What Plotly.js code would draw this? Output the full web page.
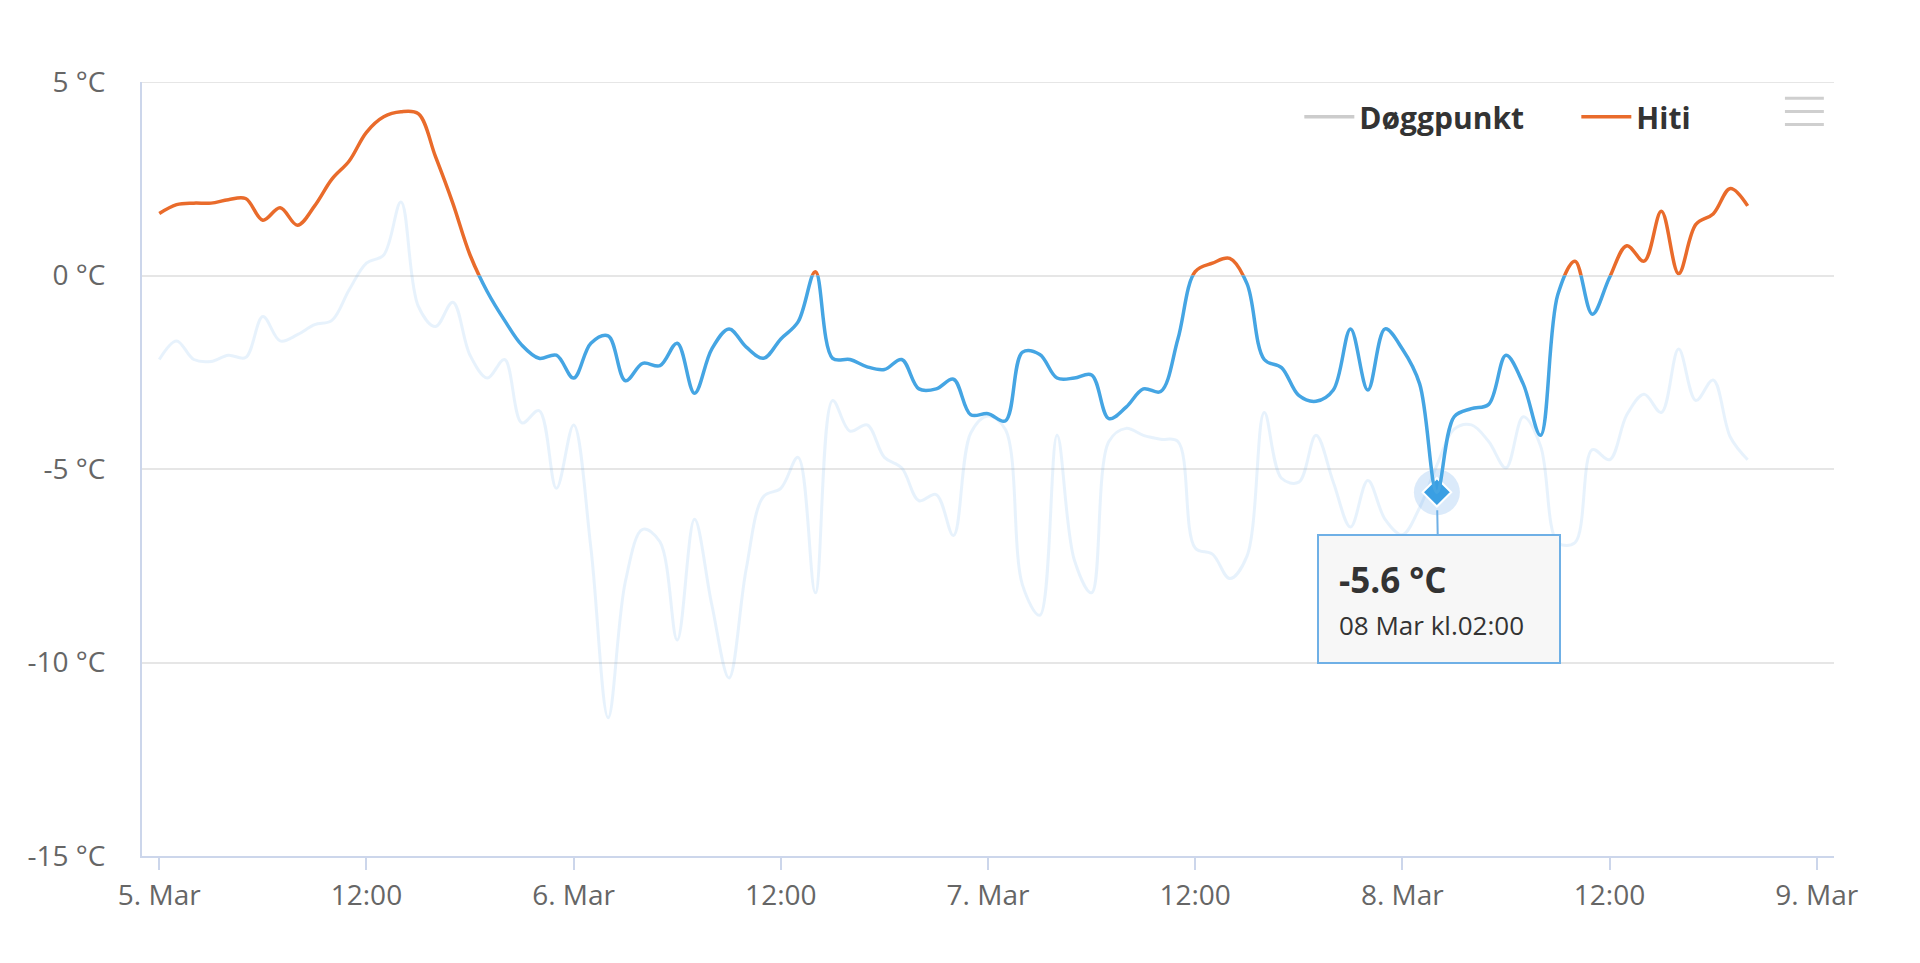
<!DOCTYPE html>
<html>
<head>
<meta charset="utf-8">
<script src="https://cdn.plot.ly/plotly-3.0.1.min.js"></script>
<style>
  html, body { margin: 0; padding: 0; background: #ffffff; }
  #chart { width: 1920px; height: 963px; }
</style>
</head>
<body>
<div id="chart"></div>
<script>
// ---- Data (hourly, from 5 Mar 00:00 to 8 Mar 20:00) ----
const startTime = '2019-03-05T00:00:00';
const hourCount = 93;

// Hiti (temperature, °C)
const tempVals = [
  1.6, 1.83, 1.87, 1.87, 1.96, 1.99, 1.43, 1.75, 1.3, 1.8,
  2.49, 2.96, 3.7, 4.1, 4.23, 4.18, 3.07, 1.87, 0.53, -0.42,
  -1.16, -1.8, -2.14, -2.06, -2.65, -1.75, -1.56, -2.72, -2.27, -2.33,
  -1.75, -3.04, -1.9, -1.38, -1.85, -2.14, -1.64, -1.2, 0.1, -2.14,
  -2.17, -2.36, -2.43, -2.17, -2.93, -2.93, -2.68, -3.6, -3.57, -3.76,
  -1.98, -2.04, -2.65, -2.65, -2.57, -3.7, -3.4, -2.93, -3.0, -1.64,
  0.1, 0.32, 0.44, -0.21, -2.17, -2.38, -3.1, -3.25, -2.96, -1.38,
  -2.96, -1.38, -1.9, -2.8, -5.6, -3.65, -3.44, -3.33, -2.06, -2.8,
  -4.13, -0.5, 0.37, -1.0, -0.05, 0.77, 0.37, 1.66, 0.05, 1.32,
  1.59, 2.25, 1.8
];

// Døggpunkt (dew point, °C)
const dewVals = [
  -2.17, -1.69, -2.17, -2.22, -2.06, -2.12, -1.06, -1.69, -1.53, -1.27,
  -1.16, -0.37, 0.32, 0.53, 1.9, -0.79, -1.32, -0.69, -2.06, -2.65,
  -2.17, -3.81, -3.49, -5.5, -3.86, -7.04, -11.43, -7.9, -6.56, -6.88,
  -9.42, -6.3, -8.5, -10.4, -7.57, -5.71, -5.5, -4.7, -8.2, -3.23,
  -4.02, -3.86, -4.7, -4.97, -5.82, -5.66, -6.72, -4.07, -3.63, -3.97,
  -8.0, -8.78, -4.13, -7.35, -8.2, -4.29, -3.95, -4.13, -4.23, -4.29,
  -7.04, -7.2, -7.83, -7.25, -3.54, -5.24, -5.34, -4.13, -5.34, -6.5,
  -5.3, -6.3, -6.7, -6.0, -4.9, -3.97, -3.86, -4.29, -4.97, -3.65,
  -4.4, -6.9, -6.9, -4.5, -4.76, -3.6, -3.07, -3.54, -1.9, -3.23,
  -2.7, -4.18, -4.76
];

const seriesNames = ['Døggpunkt', 'Hiti'];
const hoverIndex = 74;              // 08 Mar kl.02:00
const hoverLabel = '08 Mar kl.02:00';

const xTickVals = ['2019-03-05 00:00', '2019-03-05 12:00', '2019-03-06 00:00', '2019-03-06 12:00',
                   '2019-03-07 00:00', '2019-03-07 12:00', '2019-03-08 00:00', '2019-03-08 12:00',
                   '2019-03-09 00:00'];
const xTickText = ['5. Mar', '12:00', '6. Mar', '12:00', '7. Mar', '12:00', '8. Mar', '12:00', '9. Mar'];
const yTickVals = [5, 0, -5, -10, -15];
const yTickText = ['5 °C', '0 °C', '-5 °C', '-10 °C', '-15 °C'];

// ---- build hourly timestamps ----
function pad(n) { return (n < 10 ? '0' : '') + n; }
const times = [];
const t0 = new Date(startTime + 'Z').getTime();
for (let i = 0; i < hourCount; i++) {
  const d = new Date(t0 + i * 3600000);
  times.push(d.getUTCFullYear() + '-' + pad(d.getUTCMonth() + 1) + '-' + pad(d.getUTCDate()) +
             ' ' + pad(d.getUTCHours()) + ':' + pad(d.getUTCMinutes()));
}

const BLUE = '#45a5e3';
const ORANGE = '#e96b2b';
const FONT = '"Open Sans", "DejaVu Sans", sans-serif';

const traces = [
  { // dew point (inactive look)
    x: times, y: dewVals, type: 'scatter', mode: 'lines', yaxis: 'y',
    line: { color: 'rgba(124,181,236,0.18)', width: 3, shape: 'spline', smoothing: 1 },
    showlegend: false, hoverinfo: 'skip'
  },
  { // legend entry for dew point
    x: [null], y: [null], type: 'scatter', mode: 'lines', yaxis: 'y',
    name: seriesNames[0], line: { color: '#cccccc', width: 3.5 }, showlegend: true, hoverinfo: 'skip'
  },
  { // temperature below zero (clipped to lower subplot)
    x: times, y: tempVals, type: 'scatter', mode: 'lines', yaxis: 'y3',
    line: { color: BLUE, width: 3.5, shape: 'spline', smoothing: 1 },
    showlegend: false, hoverinfo: 'skip'
  },
  { // temperature above zero (clipped to upper subplot)
    x: times, y: tempVals, type: 'scatter', mode: 'lines', yaxis: 'y2',
    name: seriesNames[1],
    line: { color: ORANGE, width: 3.5, shape: 'spline', smoothing: 1 },
    showlegend: true, hoverinfo: 'skip'
  },
  { // halo
    x: [times[hoverIndex]], y: [tempVals[hoverIndex]], type: 'scatter', mode: 'markers', yaxis: 'y',
    marker: { symbol: 'circle', size: 46, color: 'rgba(124,181,236,0.28)' },
    showlegend: false, hoverinfo: 'skip'
  },
  { // hovered point
    x: [times[hoverIndex]], y: [tempVals[hoverIndex]], type: 'scatter', mode: 'markers', yaxis: 'y',
    marker: { symbol: 'diamond', size: 22, color: '#3a9fe3', line: { color: '#ffffff', width: 2 } },
    showlegend: false, hoverinfo: 'skip'
  }
];

const tipText = '<b><span style="font-size:35px">' + tempVals[hoverIndex].toFixed(1) + ' °C</span></b>' +
                '<br><span style="font-size:26px">' + hoverLabel + '</span>';

const menuColor = '#cfcfcf';
const layout = {
  width: 1920, height: 963,
  margin: { l: 142, r: 86, t: 82, b: 107, pad: 0 },
  paper_bgcolor: '#ffffff',
  plot_bgcolor: 'rgba(0,0,0,0)',
  font: { family: FONT, color: '#666666', size: 28 },
  showlegend: true,
  legend: {
    orientation: 'h', x: 0.684, xanchor: 'left', y: 0.955, yanchor: 'middle',
    font: { family: FONT, size: 30, color: '#333333', weight: 'bold' },
    bgcolor: 'rgba(0,0,0,0)', itemwidth: 50, traceorder: 'normal',
    entrywidthmode: 'pixels', entrywidth: 212
  },
  xaxis: {
    type: 'date',
    range: ['2019-03-04 23:00', '2019-03-09 01:00'],
    tickmode: 'array', tickvals: xTickVals, ticktext: xTickText,
    ticks: 'outside', ticklen: 12, tickwidth: 2, tickcolor: '#ccd6eb',
    showline: true, linecolor: '#ccd6eb', linewidth: 2,
    showgrid: false, zeroline: false,
    tickfont: { family: FONT, size: 28, color: '#666666' },
    ticklabelstandoff: 1,
    anchor: 'y', fixedrange: true
  },
  yaxis: {
    range: [-15, 5], domain: [0, 1],
    tickmode: 'array', tickvals: yTickVals, ticktext: yTickText,
    showgrid: true, gridcolor: '#e6e6e6', gridwidth: 2,
    showline: true, linecolor: '#ccd6eb', linewidth: 2,
    zeroline: false, ticks: '',
    tickfont: { family: FONT, size: 28, color: '#666666' },
    ticklabelstandoff: 29,
    fixedrange: true
  },
  yaxis2: { range: [0, 5], domain: [0.75, 1], visible: false, anchor: 'x', showgrid: false, zeroline: false, fixedrange: true },
  yaxis3: { range: [-15, 0], domain: [0, 0.75], visible: false, anchor: 'x', showgrid: false, zeroline: false, fixedrange: true },
  annotations: [{
    x: times[hoverIndex], y: tempVals[hoverIndex], xref: 'x', yref: 'y',
    ax: 2, ay: 107, axref: 'pixel', ayref: 'pixel',
    showarrow: true, arrowhead: 0, arrowwidth: 2, arrowcolor: '#6fb0e6', standoff: 18,
    text: tipText, align: 'left', valign: 'top',
    width: 200, height: 86, borderpad: 20,
    bordercolor: '#6fb0e6', borderwidth: 2, bgcolor: 'rgba(247,247,247,0.96)',
    font: { family: FONT, color: '#333333', size: 32 }
  }],
  shapes: [
    { type: 'line', xref: 'paper', yref: 'y', x0: 0, x1: 1, y0: yTickVals[0], y1: yTickVals[0], layer: 'below', line: { color: '#e6e6e6', width: 2 } },
    { type: 'line', xref: 'paper', yref: 'paper', x0: 0.971, x1: 0.994, y0: 0.979, y1: 0.979, line: { color: menuColor, width: 3 } },
    { type: 'line', xref: 'paper', yref: 'paper', x0: 0.971, x1: 0.994, y0: 0.962, y1: 0.962, line: { color: menuColor, width: 3 } },
    { type: 'line', xref: 'paper', yref: 'paper', x0: 0.971, x1: 0.994, y0: 0.945, y1: 0.945, line: { color: menuColor, width: 3 } }
  ]
};

Plotly.newPlot('chart', traces, layout, { displayModeBar: false, staticPlot: true });
</script>
</body>
</html>
